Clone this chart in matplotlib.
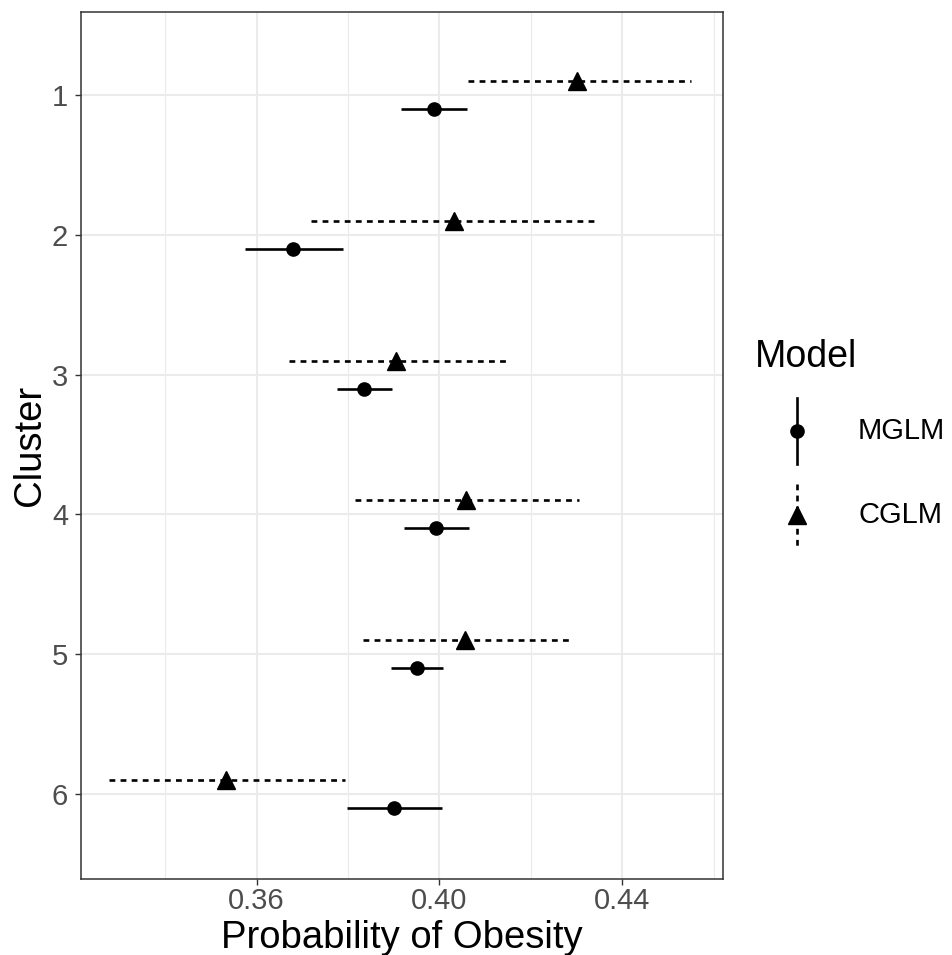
import matplotlib
matplotlib.use('Agg')
import matplotlib.pyplot as plt
from matplotlib.lines import Line2D
import numpy as np

plt.rcParams['font.family'] = ['Liberation Sans', 'DejaVu Sans']

clusters = [1, 2, 3, 4, 5, 6]

# MGLM estimates and intervals
mglm_est = [0.3988, 0.3680, 0.3835, 0.3993, 0.3950, 0.3900]
mglm_lo = [0.3915, 0.3574, 0.3775, 0.3922, 0.3895, 0.3797]
mglm_hi = [0.4060, 0.3788, 0.3896, 0.4065, 0.4007, 0.4005]

# CGLM estimates and intervals
cglm_est = [0.4302, 0.4033, 0.3905, 0.4059, 0.4057, 0.3533]
cglm_lo = [0.4063, 0.3720, 0.3670, 0.3816, 0.3833, 0.3277]
cglm_hi = [0.4551, 0.4350, 0.4150, 0.4305, 0.4285, 0.3793]

x_major = [0.36, 0.40, 0.44]
x_minor = [0.34, 0.38, 0.42, 0.46]

W, H = 952, 955
fig = plt.figure(figsize=(W / 100, H / 100), dpi=100)
left, right, top, bottom = 80.7, 722.7, 11.7, 879.0
ax = fig.add_axes([left / W, 1 - bottom / H, (right - left) / W, (bottom - top) / H])

dash = (0, (2.2, 2.0))
lw = 1.9
y = np.array(clusters, dtype=float)

ax.hlines(y - 0.1, cglm_lo, cglm_hi, colors='black', linestyles=[dash], lw=lw, zorder=3)
ax.plot(cglm_est, y - 0.1, '^', color='black', ms=13, zorder=4)
ax.hlines(y + 0.1, mglm_lo, mglm_hi, colors='black', linestyles='solid', lw=lw, zorder=3)
ax.plot(mglm_est, y + 0.1, 'o', color='black', ms=9.5, zorder=4)

ax.set_xlim(0.3215, 0.462)
ax.set_ylim(6.607, 0.405)
ax.set_xticks(x_major)
ax.set_xticklabels([f'{v:.2f}' for v in x_major])
ax.set_xticks(x_minor, minor=True)
ax.set_yticks(clusters)
ax.set_yticklabels([str(c) for c in clusters])

ax.grid(True, which='major', color='#EBEBEB', lw=1.5, zorder=0)
ax.grid(True, which='minor', axis='x', color='#EBEBEB', lw=0.8, zorder=0)
ax.set_axisbelow(True)
ax.tick_params(which='minor', length=0)
ax.tick_params(which='major', length=4, width=1, color='#333333',
               labelsize=21, labelcolor='#4D4D4D')
ax.tick_params(axis='x', pad=1.5)
ax.tick_params(axis='y', pad=5)
for s in ax.spines.values():
    s.set_color('#333333')
    s.set_linewidth(1.1)

ax.set_xlabel('Probability of Obesity', fontsize=27.5, color='black')
ax.xaxis.set_label_coords(0.5, -0.0475)
ax.set_ylabel('Cluster', fontsize=27.5, color='black', va='center')
ax.yaxis.set_label_coords(-0.079, 0.5)

# legend drawn by hand in pixel coordinates
lax = fig.add_axes([0, 0, 1, 1])
lax.set_xlim(0, W)
lax.set_ylim(H, 0)
lax.axis('off')
lax.text(755, 367, 'Model', fontsize=27, va='baseline', ha='left')
lax.add_line(Line2D([797, 797], [398, 464], color='black', lw=lw))
lax.plot([797], [431], 'o', color='black', ms=9.5)
lax.text(858, 431, 'MGLM', fontsize=21, va='center', ha='left')
lax.add_line(Line2D([797, 797], [484, 547], color='black', lw=lw, linestyle=dash))
lax.plot([797], [515], '^', color='black', ms=13)
lax.text(858, 515, 'CGLM', fontsize=21, va='center', ha='left')

fig.savefig('out.png', dpi=100)
